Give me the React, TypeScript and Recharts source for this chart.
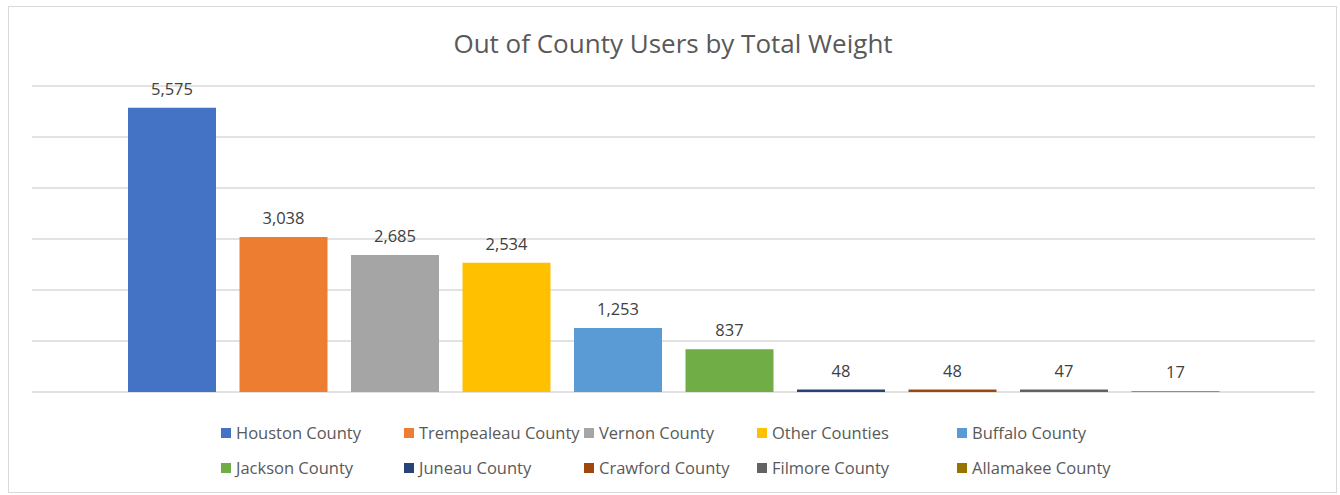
import { BarChart, Bar, Cell, XAxis, YAxis, CartesianGrid, LabelList } from "recharts";

const counties = [
  "Houston County",
  "Trempealeau County",
  "Vernon County",
  "Other Counties",
  "Buffalo County",
  "Jackson County",
  "Juneau County",
  "Crawford County",
  "Filmore County",
  "Allamakee County",
];
const weights = [5575, 3038, 2685, 2534, 1253, 837, 48, 48, 47, 17];
const yTicks = [0, 1000, 2000, 3000, 4000, 5000, 6000];

const COLORS = [
  "#4472C4",
  "#ED7D31",
  "#A5A5A5",
  "#FFC000",
  "#5B9BD5",
  "#70AD47",
  "#264478",
  "#9E480E",
  "#636363",
  "#997300",
];

const data = counties.map((name, i) => ({ name, value: weights[i] }));

const FONT = "'Open Sans', sans-serif";
// legend column left edges (marker x) in px, as Excel laid them out
const LEGEND_COLS = [221, 404, 584, 757, 957];

function LegendBlock() {
  return (
    <div style={{ position: "absolute", left: 0, top: 423, width: 1340, height: 70 }}>
      {counties.map((name, i) => {
        const col = i % 5;
        const row = Math.floor(i / 5);
        return (
          <div
            key={name}
            style={{
              position: "absolute",
              left: LEGEND_COLS[col],
              top: row * 35,
              display: "flex",
              alignItems: "center",
              gap: 5,
              fontSize: 16.5,
              color: "#595959",
              fontFamily: FONT,
              whiteSpace: "nowrap",
              lineHeight: "20px",
            }}
          >
            <span style={{ width: 10, height: 10, background: COLORS[i], display: "inline-block" }} />
            {name}
          </div>
        );
      })}
    </div>
  );
}

export default function App() {
  return (
    <div style={{ position: "absolute", left: 0, top: 0, width: 1340, height: 495, background: "#fff" }}>
      <div
        style={{
          position: "absolute",
          left: 8,
          top: 6,
          width: 1329,
          height: 487,
          border: "1px solid #d9d9d9",
          boxSizing: "border-box",
        }}
      />
      <div
        style={{
          position: "absolute",
          top: 25,
          left: 0,
          width: 1346,
          textAlign: "center",
          fontFamily: FONT,
          fontSize: 26,
          color: "#595959",
        }}
      >
        Out of County Users by Total Weight
      </div>
      <div style={{ position: "absolute", left: 0, top: 0 }}>
        <BarChart
          width={1340}
          height={495}
          data={data}
          margin={{ top: 86, right: 25, bottom: 103, left: 32 }}
          barSize={88}
        >
          <CartesianGrid vertical={false} stroke="#d9d9d9" strokeWidth={1.3} />
          <XAxis dataKey="name" hide padding={{ left: 84, right: 84 }} />
          <YAxis hide domain={[0, 6000]} ticks={yTicks} />
          <Bar dataKey="value" isAnimationActive={false}>
            {data.map((_, i) => (
              <Cell key={i} fill={COLORS[i]} />
            ))}
            <LabelList
              dataKey="value"
              position="top"
              offset={13}
              formatter={(v: number) => v.toLocaleString("en-US")}
              style={{ fill: "#404040", fontSize: 16.5, fontFamily: FONT }}
            />
          </Bar>
        </BarChart>
      </div>
      <LegendBlock />
    </div>
  );
}
